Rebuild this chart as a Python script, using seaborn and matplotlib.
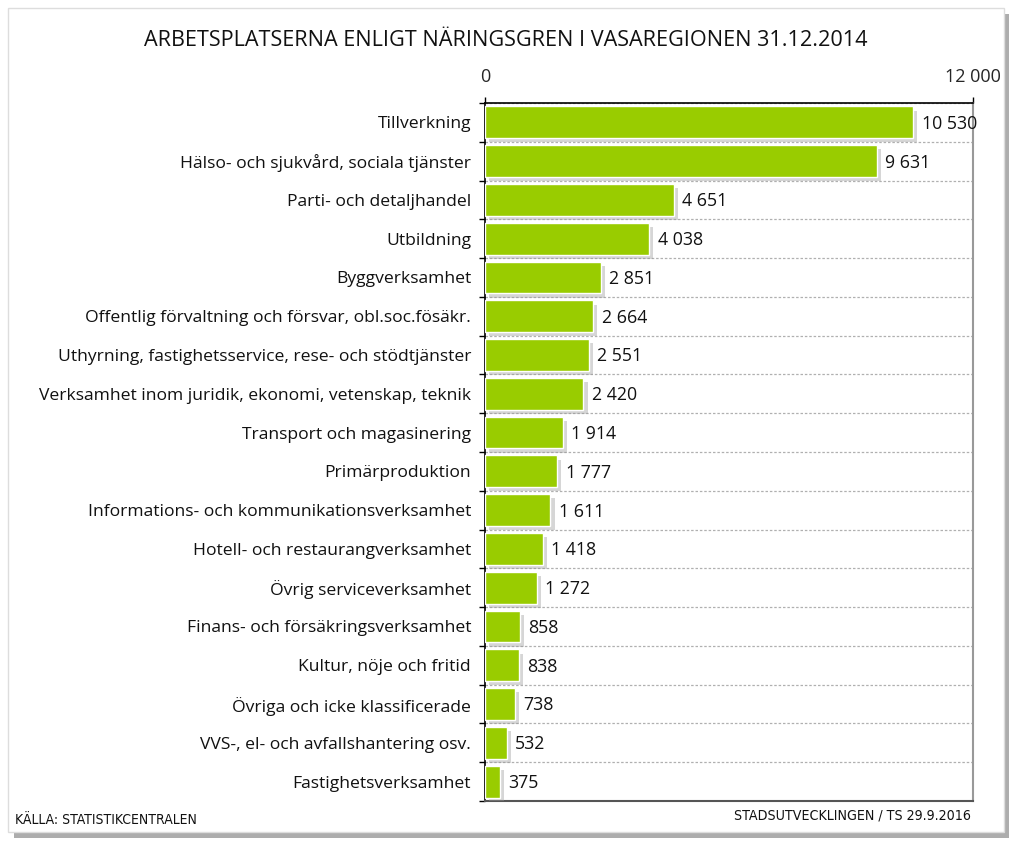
import matplotlib
matplotlib.use("Agg")
import matplotlib.pyplot as plt
import matplotlib.patheffects as pe
from matplotlib.patches import Rectangle
from matplotlib.ticker import FixedLocator
import seaborn as sns
import pandas as pd

categories = [
    "Tillverkning",
    "Hälso- och sjukvård, sociala tjänster",
    "Parti- och detaljhandel",
    "Utbildning",
    "Byggverksamhet",
    "Offentlig förvaltning och försvar, obl.soc.fösäkr.",
    "Uthyrning, fastighetsservice, rese- och stödtjänster",
    "Verksamhet inom juridik, ekonomi, vetenskap, teknik",
    "Transport och magasinering",
    "Primärproduktion",
    "Informations- och kommunikationsverksamhet",
    "Hotell- och restaurangverksamhet",
    "Övrig serviceverksamhet",
    "Finans- och försäkringsverksamhet",
    "Kultur, nöje och fritid",
    "Övriga och icke klassificerade",
    "VVS-, el- och avfallshantering osv.",
    "Fastighetsverksamhet",
]
values = [10530, 9631, 4651, 4038, 2851, 2664, 2551, 2420, 1914, 1777,
          1611, 1418, 1272, 858, 838, 738, 532, 375]
tick_values = [0, 12000]
tick_labels = ["0", "12 000"]
title = "ARBETSPLATSERNA ENLIGT NÄRINGSGREN I VASAREGIONEN 31.12.2014"
source = "KÄLLA: STATISTIKCENTRALEN"
credit = "STADSUTVECKLINGEN / TS 29.9.2016"

sns.set_theme(style="white")
plt.rcParams['font.family'] = ['Open Sans', 'DejaVu Sans']

df = pd.DataFrame({"cat": categories, "val": values})

fig = plt.figure(figsize=(10.24, 8.46), dpi=100)
fig.patch.set_facecolor("white")

# outer frame with shadow
frame = Rectangle((0.008, 0.016), 0.972, 0.974, transform=fig.transFigure,
                  facecolor="white", edgecolor="#dddddd", lw=1, zorder=-10)
frame.set_path_effects([pe.SimplePatchShadow(offset=(4, -4), shadow_rgbFace="#777777", alpha=0.6), pe.Normal()])
fig.patches.append(frame)

ax = fig.add_axes([0.4736, 0.0532, 0.4766, 0.8251])
ax.set_zorder(5)
ax.set_facecolor("white")
sns.barplot(data=df, x="val", y="cat", orient="h", color="#99CC00",
            saturation=1, width=0.82, ax=ax, zorder=3)
for p in ax.patches:
    p.set_path_effects([pe.SimplePatchShadow(offset=(3, -3), shadow_rgbFace="#999999", alpha=0.4), pe.Normal()])

ax.set_xlim(0, 12000)
ax.set_ylim(len(categories) - 0.5, -0.5)
ax.xaxis.tick_top()
ax.set_xticks(tick_values)
ax.set_xticklabels(tick_labels, fontsize=13)
ax.tick_params(axis="x", which="major", direction="out", length=4, pad=8, color="black", width=1)
ax.set_xlabel("")
ax.set_ylabel("")

ax.yaxis.set_minor_locator(FixedLocator([i + 0.5 for i in range(-1, len(categories))]))
ax.tick_params(axis="y", which="major", length=0, pad=10, labelsize=12.6, labelcolor="#111111")
ax.tick_params(axis="y", which="minor", length=4, width=1, color="black", left=True)
ax.grid(which="minor", axis="y", linestyle=(0, (2, 1.5)), color="#b0b0b0", lw=0.9, zorder=1)
ax.grid(which="major", axis="both", visible=False)

for s in ["top", "left"]:
    ax.spines[s].set_color("black")
    ax.spines[s].set_linewidth(1.2)
ax.spines["right"].set_color("#999999")
ax.spines["right"].set_linewidth(1.5)
ax.spines["bottom"].set_color("#555555")
ax.spines["bottom"].set_linewidth(1.5)

for i, v in enumerate(values):
    ax.annotate(f"{v:,}".replace(",", " "), (v, i), xytext=(6, -1),
                textcoords="offset points", va="center", ha="left",
                fontsize=12.8, color="#111111", zorder=5)

fig.text(0.494, 0.952, title, ha="center", va="center", fontsize=15.6, color="#111111")
fig.text(0.015, 0.031, source, ha="left", va="center", fontsize=10,
         family=["DejaVu Sans"], stretch="condensed", color="#111111")
fig.text(0.948, 0.036, credit, ha="right", va="center", fontsize=10.2,
         family=["DejaVu Sans"], stretch="condensed", color="#111111")

fig.savefig("out.png", dpi=100)
